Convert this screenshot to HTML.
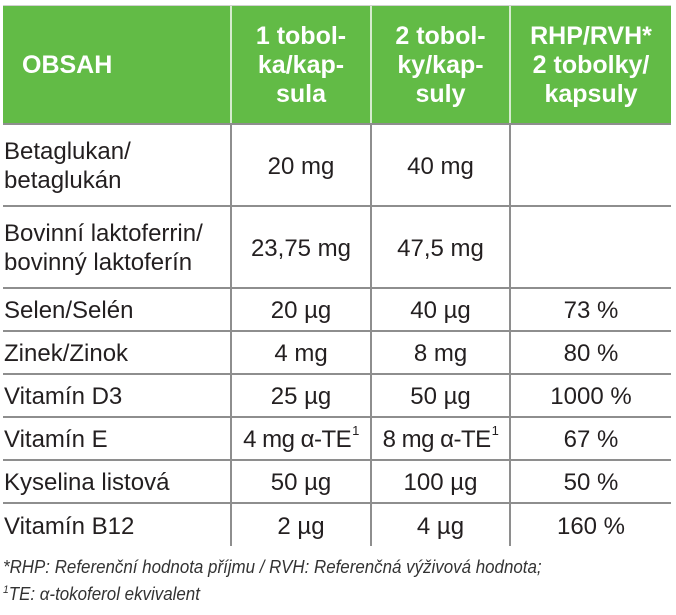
<!DOCTYPE html>
<html>
<head>
<meta charset="utf-8">
<style>
  html, body { margin:0; padding:0; background:#ffffff; }
  body { width:676px; height:615px; position:relative; overflow:hidden;
         font-family:"Liberation Sans", "DejaVu Sans", sans-serif; color:#231f20; }
  .abs { position:absolute; }
  .green { left:3px; top:6px; width:668px; height:117px; background:#62bb46; }
  .topline { left:3px; top:5px; width:668px; height:1px; background:#d0d0d0; }
  .hsep { top:6px; width:2px; height:117px; background:#d6ecce; }
  .hline { left:3px; width:668px; height:2px; background:#8e8e8e; }
  .vline { top:125px; width:2px; height:421px; background:#8e8e8e; }
  .hd { top:6px; height:117px; display:flex; align-items:center; justify-content:center;
        color:#ffffff; font-weight:bold; font-size:25px; line-height:29px; text-align:center; padding-top:1px; box-sizing:border-box; }
  .cell { display:flex; align-items:center; font-size:24px; line-height:29px; padding-top:2px; box-sizing:border-box; }
  .c1 { left:4px; width:226px; justify-content:flex-start; text-align:left; }
  .c2 { left:232px; width:138px; justify-content:center; text-align:center; white-space:nowrap; }
  .c3 { left:372px; width:137px; justify-content:center; text-align:center; white-space:nowrap; }
  .c4 { left:511px; width:160px; justify-content:center; text-align:center; white-space:nowrap; }
  sup.s { font-size:13px; position:relative; top:-9px; vertical-align:baseline; line-height:0; margin-left:1px; }
  .fn { left:3px; font-style:italic; font-size:18px; color:#333333; white-space:nowrap; line-height:20px;
        transform:scaleX(0.94); transform-origin:0 0; }
  .fn sup { font-size:11px; vertical-align:baseline; position:relative; top:-7px; line-height:0; }
</style>
</head>
<body>
  <!-- header -->
  <div class="abs topline"></div>
  <div class="abs green"></div>
  <div class="abs hsep" style="left:230px"></div>
  <div class="abs hsep" style="left:370px"></div>
  <div class="abs hsep" style="left:509px"></div>

  <div class="abs hd" style="left:22px; width:200px; justify-content:flex-start;">OBSAH</div>
  <div class="abs hd" style="left:232px; width:138px;">1 tobol-<br>ka/kap-<br>sula</div>
  <div class="abs hd" style="left:372px; width:137px;">2 tobol-<br>ky/kap-<br>suly</div>
  <div class="abs hd" style="left:511px; width:160px;">RHP/RVH*<br>2 tobolky/<br>kapsuly</div>

  <!-- grid lines -->
  <div class="abs hline" style="top:123px"></div>
  <div class="abs hline" style="top:205px"></div>
  <div class="abs hline" style="top:287px"></div>
  <div class="abs hline" style="top:330px"></div>
  <div class="abs hline" style="top:373px"></div>
  <div class="abs hline" style="top:416px"></div>
  <div class="abs hline" style="top:459px"></div>
  <div class="abs hline" style="top:502px"></div>
  <div class="abs vline" style="left:230px"></div>
  <div class="abs vline" style="left:370px"></div>
  <div class="abs vline" style="left:509px"></div>

  <!-- row 1 -->
  <div class="abs cell c1" style="top:125px; height:80px;">Betaglukan/<br>betaglukán</div>
  <div class="abs cell c2" style="top:125px; height:80px;">20 mg</div>
  <div class="abs cell c3" style="top:125px; height:80px;">40 mg</div>

  <!-- row 2 -->
  <div class="abs cell c1" style="top:207px; height:80px; white-space:nowrap;">Bovinní laktoferrin/<br>bovinný laktoferín</div>
  <div class="abs cell c2" style="top:207px; height:80px;">23,75 mg</div>
  <div class="abs cell c3" style="top:207px; height:80px;">47,5 mg</div>

  <!-- row 3 -->
  <div class="abs cell c1" style="top:289px; height:41px;">Selen/Selén</div>
  <div class="abs cell c2" style="top:289px; height:41px;">20 µg</div>
  <div class="abs cell c3" style="top:289px; height:41px;">40 µg</div>
  <div class="abs cell c4" style="top:289px; height:41px;">73 %</div>

  <!-- row 4 -->
  <div class="abs cell c1" style="top:332px; height:41px;">Zinek/Zinok</div>
  <div class="abs cell c2" style="top:332px; height:41px;">4 mg</div>
  <div class="abs cell c3" style="top:332px; height:41px;">8 mg</div>
  <div class="abs cell c4" style="top:332px; height:41px;">80 %</div>

  <!-- row 5 -->
  <div class="abs cell c1" style="top:375px; height:41px;">Vitamín D3</div>
  <div class="abs cell c2" style="top:375px; height:41px;">25 µg</div>
  <div class="abs cell c3" style="top:375px; height:41px;">50 µg</div>
  <div class="abs cell c4" style="top:375px; height:41px;">1000 %</div>

  <!-- row 6 -->
  <div class="abs cell c1" style="top:418px; height:41px;">Vitamín E</div>
  <div class="abs cell c2" style="top:418px; height:41px; letter-spacing:-0.5px;">4 mg α-TE<sup class="s">1</sup></div>
  <div class="abs cell c3" style="top:418px; height:41px; letter-spacing:-0.5px;">8 mg α-TE<sup class="s">1</sup></div>
  <div class="abs cell c4" style="top:418px; height:41px;">67 %</div>

  <!-- row 7 -->
  <div class="abs cell c1" style="top:461px; height:41px;">Kyselina listová</div>
  <div class="abs cell c2" style="top:461px; height:41px;">50 µg</div>
  <div class="abs cell c3" style="top:461px; height:41px;">100 µg</div>
  <div class="abs cell c4" style="top:461px; height:41px;">50 %</div>

  <!-- row 8 -->
  <div class="abs cell c1" style="top:504px; height:42px;">Vitamín B12</div>
  <div class="abs cell c2" style="top:504px; height:42px;">2 µg</div>
  <div class="abs cell c3" style="top:504px; height:42px;">4 µg</div>
  <div class="abs cell c4" style="top:504px; height:42px;">160 %</div>

  <!-- footnotes -->
  <div class="abs fn" style="top:557px;">*RHP: Referenční hodnota příjmu / RVH: Referenčná výživová hodnota;</div>
  <div class="abs fn" style="top:584px;"><sup>1</sup>TE: α-tokoferol ekvivalent</div>
</body>
</html>
